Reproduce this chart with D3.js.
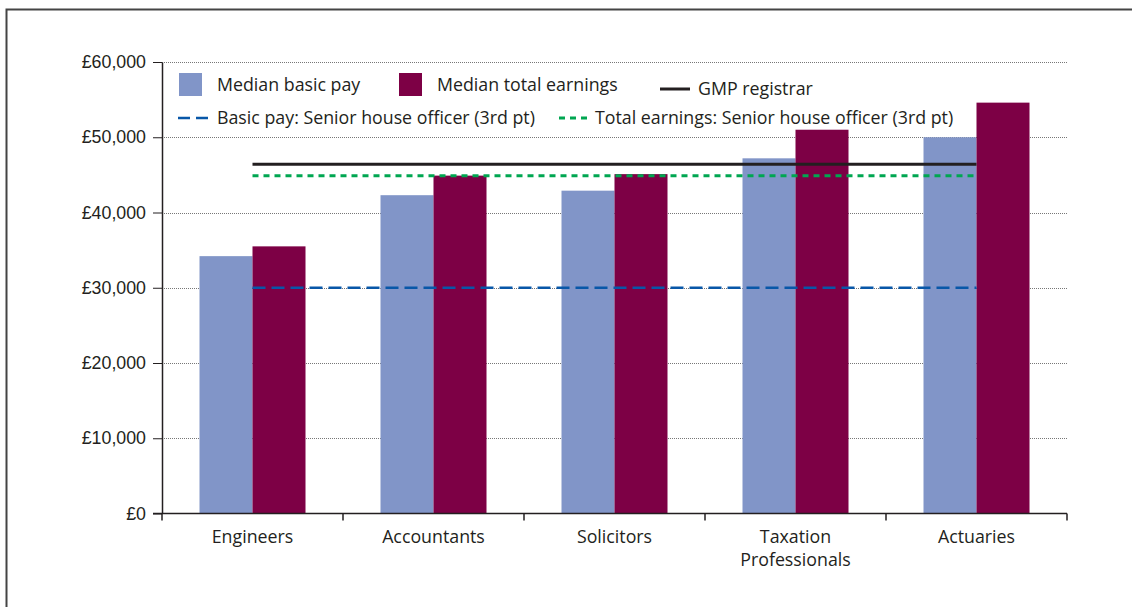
<!DOCTYPE html>
<html>
<head>
<meta charset="utf-8">
<script src="https://cdn.jsdelivr.net/npm/d3@7"></script>
<style>
  body { margin: 0; background: #fff; }
  svg { display: block; font-family: "Open Sans", "Noto Sans", sans-serif; }
  .axis text { fill: #231f20; font-size: 17.8px; }
  .axis path, .axis line { stroke: #231f20; }
</style>
</head>
<body>
<div id="chart"></div>
<script>
// Data
const categories = ['Engineers', 'Accountants', 'Solicitors', 'Taxation Professionals', 'Actuaries'];
const basicPay = [34200, 42300, 42900, 47200, 50000];
const totalEarnings = [35500, 44900, 45100, 51000, 54600];
const yTicks = [0, 10000, 20000, 30000, 40000, 50000, 60000];
const gmpRegistrar = 46400;
const shoBasic = 30000;
const shoTotal = 44900;

const width = 1132, height = 607;
const margin = { top: 62, left: 162, right: 65, bottom: 93.5 };

const svg = d3.select('#chart').append('svg')
    .attr('width', width)
    .attr('height', height);

// outer frame
svg.append('rect')
    .attr('x', 6.5).attr('y', 9.5)
    .attr('width', width).attr('height', height)
    .attr('fill', 'none')
    .attr('stroke', '#444')
    .attr('stroke-width', 2);

// Scales
const x = d3.scaleBand()
    .domain(categories)
    .range([margin.left, width - margin.right])
    .padding(0);

const y = d3.scaleLinear()
    .domain([0, 60000])
    .range([height - margin.bottom, margin.top]);

const barW = 53;
const fmt = d => '£' + d3.format(',')(d);

// Gridlines
svg.append('g')
    .selectAll('line')
    .data(yTicks.filter(d => d > 0))
    .join('line')
    .attr('x1', margin.left).attr('x2', width - margin.right)
    .attr('y1', d => Math.round(y(d)) + 0.5).attr('y2', d => Math.round(y(d)) + 0.5)
    .attr('stroke', '#777')
    .attr('stroke-dasharray', '1,1');

// Bars
const groups = svg.append('g')
    .selectAll('g')
    .data(categories)
    .join('g');

groups.append('rect')
    .attr('x', d => x(d) + x.bandwidth() / 2 - barW)
    .attr('y', (d, i) => y(basicPay[i]))
    .attr('width', barW)
    .attr('height', (d, i) => y(0) - y(basicPay[i]))
    .attr('fill', '#8195c8');

groups.append('rect')
    .attr('x', d => x(d) + x.bandwidth() / 2)
    .attr('y', (d, i) => y(totalEarnings[i]))
    .attr('width', barW)
    .attr('height', (d, i) => y(0) - y(totalEarnings[i]))
    .attr('fill', '#7d0045');

// Reference lines, first to last category centre
const lx1 = x(categories[0]) + x.bandwidth() / 2;
const lx2 = x(categories[categories.length - 1]) + x.bandwidth() / 2;

const refLines = [
    { v: shoBasic, color: '#0857a8', w: 2.5, dash: '13,6' },
    { v: shoTotal, color: '#00a651', w: 3, dash: '6,5' },
    { v: gmpRegistrar, color: '#231f20', w: 3, dash: null }
];

svg.append('g')
    .selectAll('line')
    .data(refLines)
    .join('line')
    .attr('x1', lx1).attr('x2', lx2)
    .attr('y1', d => y(d.v)).attr('y2', d => y(d.v))
    .attr('stroke', d => d.color)
    .attr('stroke-width', d => d.w)
    .attr('stroke-dasharray', d => d.dash);

// Y axis
const yAxis = d3.axisLeft(y)
    .tickValues(yTicks)
    .tickFormat(fmt)
    .tickSizeInner(9)
    .tickSizeOuter(0)
    .tickPadding(7);

svg.append('g')
    .attr('class', 'axis')
    .attr('transform', `translate(${margin.left},0)`)
    .call(yAxis)
    .call(g => g.select('.domain').attr('stroke-width', 1.5));

// X axis (ticks at category boundaries)
const xg = svg.append('g').attr('class', 'axis');
const base = y(0);
xg.append('line')
    .attr('x1', margin.left - 9).attr('x2', width - margin.right)
    .attr('y1', base).attr('y2', base)
    .attr('stroke', '#231f20').attr('stroke-width', 1.5);

const bounds = categories.map(c => x(c)).concat([x.range()[1]]);
xg.selectAll('.xtick')
    .data(bounds)
    .join('line')
    .attr('class', 'xtick')
    .attr('x1', d => d).attr('x2', d => d)
    .attr('y1', base).attr('y2', base + 7)
    .attr('stroke', '#231f20').attr('stroke-width', 1.5);

const xLabels = xg.selectAll('.xlabel')
    .data(categories)
    .join('text')
    .attr('class', 'xlabel')
    .attr('text-anchor', 'middle')
    .attr('x', d => x(d) + x.bandwidth() / 2)
    .attr('y', base + 29);

xLabels.each(function(d) {
    const words = d === 'Taxation Professionals' ? ['Taxation', 'Professionals'] : [d];
    const t = d3.select(this);
    words.forEach((w, i) => {
        t.append('tspan')
            .attr('x', x(d) + x.bandwidth() / 2)
            .attr('dy', i === 0 ? 0 : 23)
            .text(w);
    });
});

// Legend
const legend = svg.append('g').attr('fill', '#231f20').style('font-size', '17.8px');

const swatches = [
    { label: 'Median basic pay', color: '#8195c8', x: 179 },
    { label: 'Median total earnings', color: '#7d0045', x: 399 }
];
swatches.forEach(s => {
    legend.append('rect')
        .attr('x', s.x).attr('y', 73)
        .attr('width', 23).attr('height', 23)
        .attr('fill', s.color);
    legend.append('text')
        .attr('x', s.x + 38).attr('y', 91)
        .text(s.label);
});

const legendLines = [
    { label: 'GMP registrar', color: '#231f20', w: 3, dash: null, x: 660, len: 30, y: 89 },
    { label: 'Basic pay: Senior house officer (3rd pt)', color: '#0857a8', w: 2.5, dash: '12,6', x: 178, len: 31, y: 118 },
    { label: 'Total earnings: Senior house officer (3rd pt)', color: '#00a651', w: 3, dash: '6,5', x: 559, len: 28, y: 118 }
];
legendLines.forEach(l => {
    legend.append('line')
        .attr('x1', l.x).attr('x2', l.x + l.len)
        .attr('y1', l.y).attr('y2', l.y)
        .attr('stroke', l.color)
        .attr('stroke-width', l.w)
        .attr('stroke-dasharray', l.dash);
    legend.append('text')
        .attr('x', l.x + l.len + 8).attr('y', l.y + 6)
        .text(l.label);
});
</script>
</body>
</html>
